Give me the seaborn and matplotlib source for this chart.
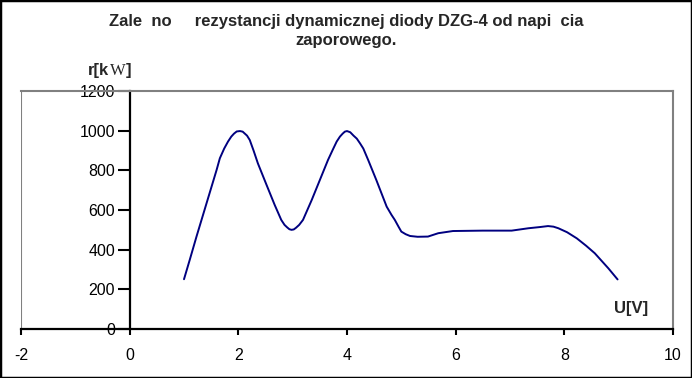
import matplotlib
matplotlib.use("Agg")
import matplotlib.pyplot as plt
import matplotlib.patches as patches
import seaborn as sns
import pandas as pd

# Data
U = [1.0, 1.105, 1.23, 1.35, 1.47, 1.6, 1.66, 1.74, 1.81, 1.87, 1.92, 1.97, 2.03, 2.08, 2.12,
     2.16, 2.21, 2.28, 2.36, 2.52, 2.67, 2.79, 2.85, 2.9, 2.94, 2.98, 3.02, 3.06, 3.12, 3.19,
     3.35, 3.5, 3.65, 3.74, 3.81, 3.87, 3.92, 3.96, 4.0, 4.06, 4.12, 4.18, 4.24, 4.3, 4.39,
     4.54, 4.73, 4.82, 4.88, 4.95, 5.0, 5.08, 5.16, 5.3, 5.49, 5.68, 5.95, 6.5, 7.03, 7.34,
     7.55, 7.7, 7.8, 7.89, 8.05, 8.23, 8.4, 8.56, 8.81, 8.98]
R = [251, 348, 466, 575, 684, 802, 861, 910, 945, 970, 985, 996, 998, 995, 985,
     975, 953, 900, 835, 726, 625, 550, 525, 512, 503, 500, 502, 510, 525, 550,
     650, 751, 852, 905, 945, 970, 985, 995, 998, 992, 975, 960, 936, 910, 852,
     751, 617, 575, 550, 515, 491, 478, 469, 465, 466, 483, 494, 496, 496, 508,
     514, 519, 516, 508, 488, 457, 420, 382, 306, 250]

title = "Zale  no     rezystancji dynamicznej diody DZG-4 od napi  cia\nzaporowego."
xticks = [-2, 0, 2, 4, 6, 8, 10]
yticks = [0, 200, 400, 600, 800, 1000, 1200]

sns.set_style("white")
plt.rcParams["font.family"] = ["Liberation Sans", "DejaVu Sans"]
plt.rcParams["axes.unicode_minus"] = False

W, H = 692, 378
fig = plt.figure(figsize=(W / 100, H / 100), dpi=100)
ax = fig.add_axes([21 / W, 49 / H, 652 / W, 238 / H])

df = pd.DataFrame({"U": U, "R": R})
sns.lineplot(data=df, x="U", y="R", ax=ax, color="#000080", linewidth=1.4,
             estimator=None, sort=False)

ax.set_xlim(-2, 10)
ax.set_ylim(0, 1200)
ax.set_xticks(xticks)
ax.set_yticks(yticks)
ax.set_xlabel("")
ax.set_ylabel("")

gray = "#808080"
ax.spines["left"].set_position(("data", 0))
ax.spines["left"].set_color("black")
ax.spines["left"].set_linewidth(1.6)
ax.spines["bottom"].set_color("black")
ax.spines["bottom"].set_linewidth(1.6)
for s in ["top", "right"]:
    ax.spines[s].set_color(gray)
    ax.spines[s].set_linewidth(1.5)
ax.axvline(-2, color=gray, linewidth=1.5, zorder=0)

ax.tick_params(axis="x", direction="out", length=4, width=1.5, pad=10,
               labelsize=11.5, colors="black", bottom=True)
ax.tick_params(axis="y", direction="out", length=8.5, width=1.5, pad=2,
               labelsize=11.5, colors="black", left=True)

# Title
fig.text(346 / W, 1 - 31 / H, title, ha="center", va="center", fontsize=12,
         fontweight="bold", linespacing=1.35)

# axis labels: r[k + W (serif, as drawn) + ]
fig.canvas.draw()
renderer = fig.canvas.get_renderer()
t1 = fig.text(88 / W, 1 - 70 / H, "r[k", ha="left", va="center", fontsize=12,
              fontweight="bold")
x1 = t1.get_window_extent(renderer).x1
t2 = fig.text((x1 + 0.5) / W, 1 - 71 / H, "W", ha="left", va="center", fontsize=12,
              family="Liberation Serif")
x2 = t2.get_window_extent(renderer).x1
fig.text((x2 + 0.5) / W, 1 - 70 / H, "]", ha="left", va="center", fontsize=12,
         fontweight="bold")
fig.text(631 / W, 1 - 308 / H, "U[V]", ha="center", va="center", fontsize=12,
         fontweight="bold")

fig.patches.append(patches.Rectangle((0, 0), 1, 1, transform=fig.transFigure,
                                     fill=False, edgecolor="black", linewidth=2.5))

fig.savefig("out.png", dpi=100)
